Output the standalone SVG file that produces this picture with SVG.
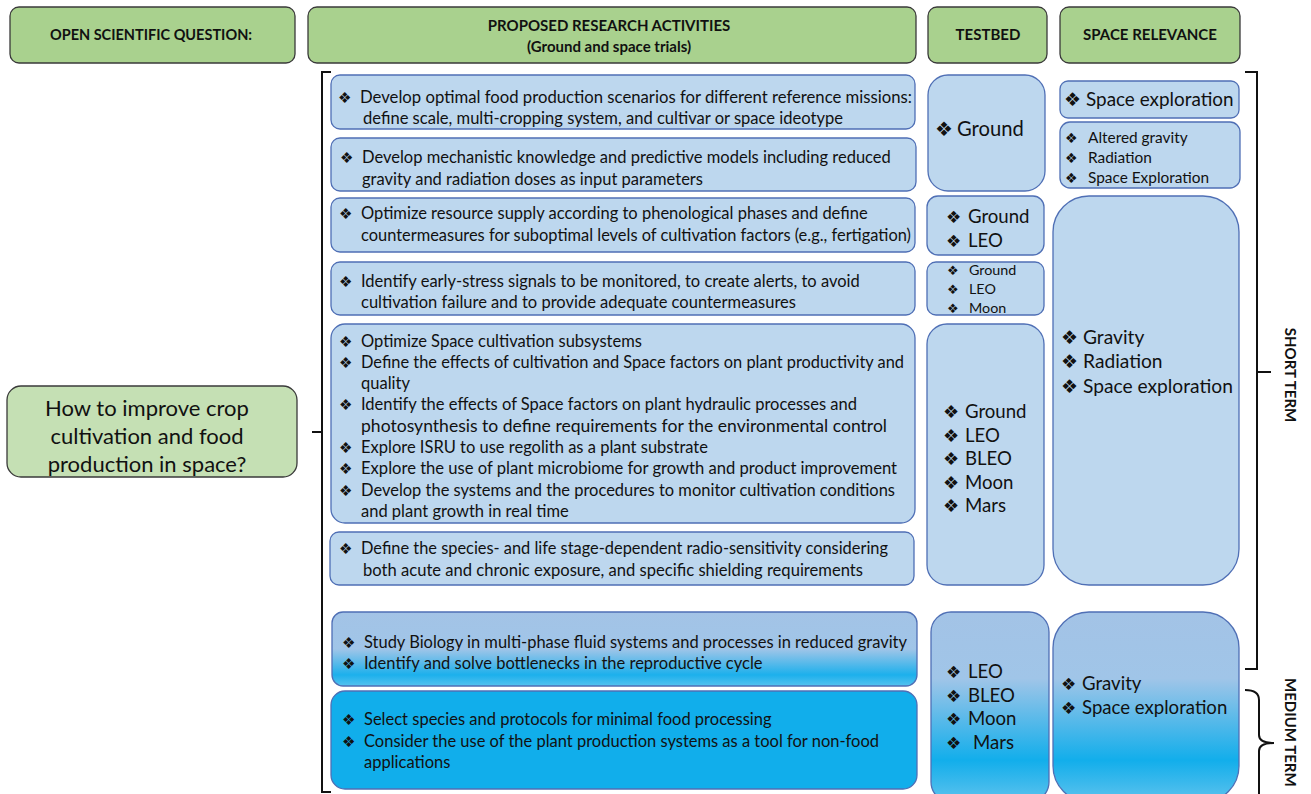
<svg xmlns="http://www.w3.org/2000/svg" width="1311" height="794" viewBox="0 0 1311 794">
<defs>
<linearGradient id="g7" x1="0" y1="0" x2="0" y2="1">
<stop offset="0" stop-color="#a3c3e6"/><stop offset="0.5" stop-color="#a0c5e8"/><stop offset="0.85" stop-color="#1cb0ec"/><stop offset="1" stop-color="#55c2ef"/>
</linearGradient>
<linearGradient id="gc" x1="0" y1="0" x2="0" y2="1">
<stop offset="0" stop-color="#a3c3e6"/><stop offset="0.35" stop-color="#a0c5e8"/><stop offset="0.78" stop-color="#12aeeb"/><stop offset="0.9" stop-color="#3bb9ec"/><stop offset="1" stop-color="#5ec3ee"/>
</linearGradient>
</defs>
<style>
.hd{fill:#a9d18e;stroke:#3a3a3a;stroke-width:1.3}
.q{fill:#c5e0b4;stroke:#3a3a3a;stroke-width:1.3}
.bx{fill:#bdd7ee;stroke:#4f6fb5;stroke-width:1.3}
.gr{stroke:#4f6fb5;stroke-width:1.3}
.ht{font-family:"Lato","Liberation Sans",sans-serif;font-weight:bold;font-size:15px;fill:#111;text-anchor:middle}
.t,.t22,.t18,.t14,.t20,.t15,.t19{font-family:"Lato","Liberation Sans",sans-serif;fill:#111}
.t{font-size:16.5px}
.t22{font-size:22px}
.t18{font-size:18.6px}
.t14{font-size:14.3px}
.t20{font-size:19.2px}
.t19{font-size:18.9px}
.t15{font-size:15.4px}
.b,.b20,.b17,.b13,.b19,.b14,.b18{font-family:"DejaVu Sans",sans-serif;fill:#111}
.b{font-size:15px}
.b20{font-size:20px}
.b17{font-size:17px}
.b13{font-size:13px}
.b19{font-size:19px}
.b14{font-size:14px}
.b18{font-size:18px}
.br{fill:none;stroke:#111;stroke-width:2}
</style>
<g id="headers">
<rect class="hd" x="10" y="7" width="285" height="56" rx="9"/>
<text class="ht" x="151" y="40" style="font-size:14.5px">OPEN SCIENTIFIC QUESTION:</text>
<rect class="hd" x="308" y="7" width="608" height="56" rx="9"/>
<text class="ht" x="609" y="31">PROPOSED RESEARCH ACTIVITIES</text>
<text class="ht" x="609" y="52">(Ground and space trials)</text>
<rect class="hd" x="928" y="7" width="119" height="56" rx="9"/>
<text class="ht" x="988" y="40">TESTBED</text>
<rect class="hd" x="1060" y="7" width="180" height="56" rx="9"/>
<text class="ht" x="1150" y="40">SPACE RELEVANCE</text>
</g>
<g id="question">
<rect class="q" x="7" y="386" width="290" height="91" rx="14"/>
<text class="t22" text-anchor="middle"><tspan x="147" y="416">How to improve crop</tspan><tspan x="147" y="444">cultivation and food</tspan><tspan x="147" y="472">production in space?</tspan></text>
</g>
<g id="connectors">
<path class="br" d="M331,72 H322 V792 H331 M322,432 H312"/>
<path class="br" d="M1245,72 H1257 V669 H1245 M1257,372 H1271"/>
<path class="br" d="M1245,690 Q1259,690 1259,700 V735 Q1259,743 1274,743 Q1259,743 1259,751 V794"/>
</g>
<g id="act1">
<rect class="bx" x="331" y="75" width="584" height="54" rx="9"/>
<text class="b" x="338" y="103">❖</text>
<text class="t" x="360" y="103" textLength="552" lengthAdjust="spacingAndGlyphs">Develop optimal food production scenarios for different reference missions:</text>
<text class="t" x="363" y="124" textLength="480" lengthAdjust="spacingAndGlyphs">define scale, multi-cropping system, and cultivar or space ideotype</text>
</g>
<g id="act2">
<rect class="bx" x="331" y="138" width="585" height="53" rx="9"/>
<text class="b" x="340" y="163">❖</text>
<text class="t" x="362" y="163">Develop mechanistic knowledge and predictive models including reduced</text>
<text class="t" x="362" y="185">gravity and radiation doses as input parameters</text>
</g>
<g id="act3">
<rect class="bx" x="331" y="198" width="584" height="54" rx="9"/>
<text class="b" x="339" y="219">❖</text>
<text class="t" x="361" y="219">Optimize resource supply according to phenological phases and define</text>
<text class="t" x="361" y="241" textLength="550" lengthAdjust="spacingAndGlyphs">countermeasures for suboptimal levels of cultivation factors (e.g., fertigation)</text>
</g>
<g id="act4">
<rect class="bx" x="331" y="262" width="584" height="53" rx="9"/>
<text class="b" x="339" y="287">❖</text>
<text class="t" x="361" y="287">Identify early-stress signals to be monitored, to create alerts, to avoid</text>
<text class="t" x="361" y="308">cultivation failure and to provide adequate countermeasures</text>
</g>
<g id="act5">
<rect class="bx" x="331" y="324" width="584" height="199" rx="14"/>
<text class="b" x="339" y="347">❖</text><text class="t" x="361" y="347">Optimize Space cultivation subsystems</text>
<text class="b" x="339" y="368">❖</text><text class="t" x="361" y="368" textLength="543" lengthAdjust="spacingAndGlyphs">Define the effects of cultivation and Space factors on plant productivity and</text>
<text class="t" x="361" y="389">quality</text>
<text class="b" x="339" y="410">❖</text><text class="t" x="361" y="410">Identify the effects of Space factors on plant hydraulic processes and</text>
<text class="t" x="361" y="432" textLength="526" lengthAdjust="spacingAndGlyphs">photosynthesis to define requirements for the environmental control</text>
<text class="b" x="339" y="453">❖</text><text class="t" x="361" y="453">Explore ISRU to use regolith as a plant substrate</text>
<text class="b" x="339" y="474">❖</text><text class="t" x="361" y="474" textLength="536" lengthAdjust="spacingAndGlyphs">Explore the use of plant microbiome for growth and product improvement</text>
<text class="b" x="339" y="496">❖</text><text class="t" x="361" y="496" textLength="534" lengthAdjust="spacingAndGlyphs">Develop the systems and the procedures to monitor cultivation conditions</text>
<text class="t" x="361" y="517">and plant growth in real time</text>
</g>
<g id="act6">
<rect class="bx" x="330" y="532" width="584" height="53" rx="9"/>
<text class="b" x="339" y="554">❖</text>
<text class="t" x="361" y="554" textLength="527" lengthAdjust="spacingAndGlyphs">Define the species- and life stage-dependent radio-sensitivity considering</text>
<text class="t" x="363" y="576" textLength="500" lengthAdjust="spacingAndGlyphs">both acute and chronic exposure, and specific shielding requirements</text>
</g>
<g id="act7">
<rect class="gr" x="332" y="612" width="585" height="74" rx="11" fill="url(#g7)"/>
<text class="b" x="342" y="648">❖</text><text class="t" x="364" y="648" textLength="543" lengthAdjust="spacingAndGlyphs">Study Biology in multi-phase fluid systems and processes in reduced gravity</text>
<text class="b" x="342" y="669">❖</text><text class="t" x="364" y="669">Identify and solve bottlenecks in the reproductive cycle</text>
</g>
<g id="act8">
<rect class="gr" x="331" y="691" width="586" height="98" rx="14" fill="#11aeeb"/>
<text class="b" x="342" y="725">❖</text><text class="t" x="364" y="725">Select species and protocols for minimal food processing</text>
<text class="b" x="342" y="747">❖</text><text class="t" x="364" y="747" textLength="515" lengthAdjust="spacingAndGlyphs">Consider the use of the plant production systems as a tool for non-food</text>
<text class="t" x="364" y="768">applications</text>
</g>
<g id="tb1">
<rect class="bx" x="928" y="75" width="117" height="116" rx="20"/>
<text class="b20" x="935" y="136">❖</text><text class="t22" x="957" y="136" style="font-size:20.2px">Ground</text>
</g>
<g id="tb2">
<rect class="bx" x="927" y="196" width="117" height="59" rx="11"/>
<text class="b17" x="946" y="223">❖</text><text class="t18" x="968" y="223">Ground</text>
<text class="b17" x="946" y="247">❖</text><text class="t18" x="968" y="247">LEO</text>
</g>
<g id="tb3">
<rect class="bx" x="927" y="262" width="117" height="53" rx="9"/>
<text class="b13" x="947" y="275">❖</text><text class="t14" x="969" y="275">Ground</text>
<text class="b13" x="947" y="294">❖</text><text class="t14" x="969" y="294">LEO</text>
<text class="b13" x="947" y="313">❖</text><text class="t14" x="969" y="313">Moon</text>
</g>
<g id="tb4">
<rect class="bx" x="927" y="324" width="117" height="261" rx="20"/>
<text class="b18" x="943" y="418">❖</text><text class="t18" x="965" y="418">Ground</text>
<text class="b18" x="943" y="442">❖</text><text class="t18" x="965" y="442">LEO</text>
<text class="b18" x="943" y="465">❖</text><text class="t18" x="965" y="465">BLEO</text>
<text class="b18" x="943" y="489">❖</text><text class="t18" x="965" y="489">Moon</text>
<text class="b18" x="943" y="512">❖</text><text class="t18" x="965" y="512">Mars</text>
</g>
<g id="tb5">
<rect class="gr" x="931" y="612" width="118" height="190" rx="20" fill="url(#gc)"/>
<text class="b17" x="946" y="678">❖</text><text class="t18" x="968" y="678">LEO</text>
<text class="b17" x="946" y="702">❖</text><text class="t18" x="968" y="702">BLEO</text>
<text class="b17" x="946" y="725">❖</text><text class="t18" x="968" y="725">Moon</text>
<text class="b17" x="946" y="749">❖</text><text class="t18" x="973" y="749">Mars</text>
</g>
<g id="sr1">
<rect class="bx" x="1060" y="81" width="179" height="37" rx="8"/>
<text class="b19" x="1064" y="106">❖</text><text class="t19" x="1086" y="106">Space exploration</text>
</g>
<g id="sr2">
<rect class="bx" x="1060" y="122" width="180" height="66" rx="10"/>
<text class="b14" x="1065" y="143">❖</text><text class="t15" x="1088" y="143">Altered gravity</text>
<text class="b14" x="1065" y="163">❖</text><text class="t15" x="1088" y="163">Radiation</text>
<text class="b14" x="1065" y="183">❖</text><text class="t15" x="1088" y="183">Space Exploration</text>
</g>
<g id="sr3">
<rect class="bx" x="1053" y="196" width="186" height="389" rx="36"/>
<text class="b19" x="1061" y="344">❖</text><text class="t20" x="1083" y="344">Gravity</text>
<text class="b19" x="1061" y="368">❖</text><text class="t20" x="1083" y="368">Radiation</text>
<text class="b19" x="1061" y="393">❖</text><text class="t20" x="1083" y="393">Space exploration</text>
</g>
<g id="sr4">
<rect class="gr" x="1053" y="612" width="186" height="190" rx="36" fill="url(#gc)"/>
<text class="b17" x="1061" y="690">❖</text><text class="t18" x="1082" y="690">Gravity</text>
<text class="b17" x="1061" y="714">❖</text><text class="t18" x="1082" y="714">Space exploration</text>
</g>
<g id="terms">
<text class="ht" transform="translate(1285,375) rotate(90)">SHORT TERM</text>
<text class="ht" transform="translate(1285,678) rotate(90)" style="text-anchor:start">MEDIUM TERM</text>
</g>
</svg>
